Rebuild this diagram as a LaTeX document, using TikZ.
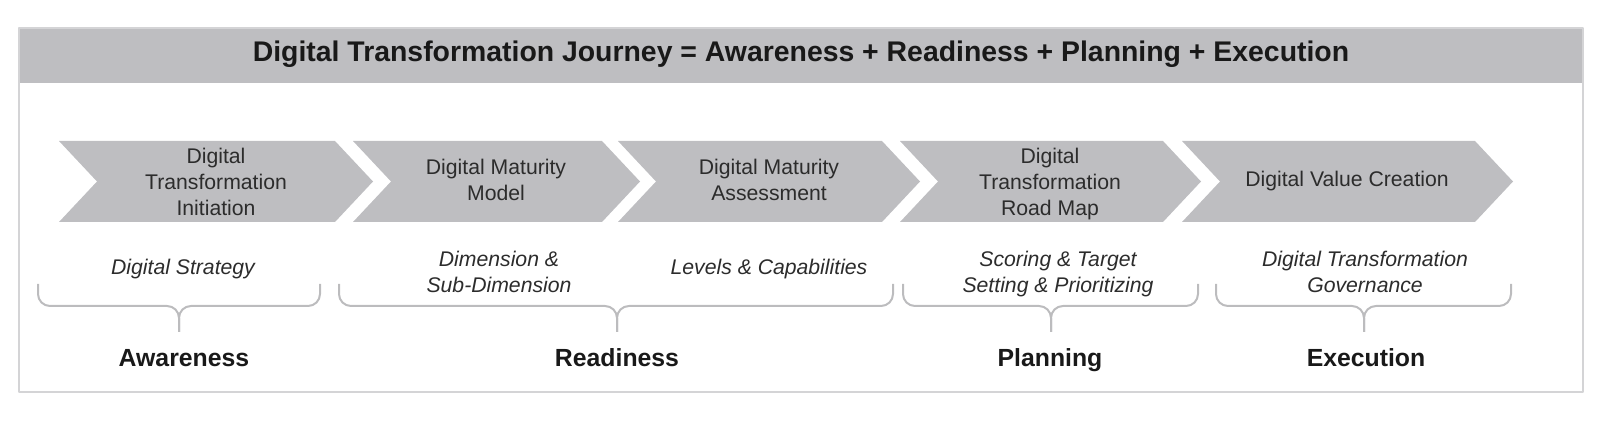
\documentclass[tikz,border=0pt]{standalone}
\usepackage{fontspec}
\setmainfont{Liberation Sans}
\definecolor{bandgray}{HTML}{BEBEC1}
\definecolor{framegray}{HTML}{D4D4D6}
\definecolor{bracegray}{HTML}{BCBCBE}
\definecolor{textgray}{HTML}{2C2C2C}
\tikzset{every scope/.style={line join=round},
  chev/.style={fill=bandgray},
  steptext/.style={align=center,text=textgray,font=\fontsize{10.6}{13}\selectfont},
  note/.style={align=center,text=textgray,font=\fontsize{10.6}{13}\selectfont\itshape},
  phase/.style={text=black!90,font=\fontsize{12.4}{15}\selectfont\bfseries},
  brace/.style={draw=bracegray,line width=1pt,rounded corners=6}}

\begin{document}
\begin{tikzpicture}[x=0.5pt,y=-0.5pt]
      \useasboundingbox (0,0) rectangle (1612,422);
      \fill[bandgray] (19,28) rectangle (1583,83);
      \draw[framegray,line width=1pt] (19,28) rectangle (1583,392);
      \node[text=black!90,font=\fontsize{14.2}{17}\selectfont\bfseries] (title) at (801,54) {Digital Transformation Journey = Awareness + Readiness + Planning + Execution};

      \fill[chev] (59,141) -- (335,141) -- (373,181.5) -- (335,222) -- (59,222) -- (97,181.5) -- cycle;
      \fill[chev] (353,141) -- (602,141) -- (640,181.5) -- (602,222) -- (353,222) -- (391,181.5) -- cycle;
      \fill[chev] (618,141) -- (882,141) -- (920,181.5) -- (882,222) -- (618,222) -- (656,181.5) -- cycle;
      \fill[chev] (900,141) -- (1163,141) -- (1201,181.5) -- (1163,222) -- (900,222) -- (938,181.5) -- cycle;
      \fill[chev] (1182,141) -- (1475,141) -- (1513,181.5) -- (1475,222) -- (1182,222) -- (1220,181.5) -- cycle;
      \node[steptext] (initiation) at (216,182) {Digital\\Transformation\\Initiation};
      \node[steptext] (model) at (496,180) {Digital Maturity\\Model};
      \node[steptext] (assess) at (769,180) {Digital Maturity\\Assessment};
      \node[steptext] (roadmap) at (1050,184.5) {Digital\\Transformation\\Road Map};
      \node[steptext] (value) at (1347,181) {Digital Value Creation};

      \node[note] (strategy) at (183,269) {Digital Strategy};
      \node[note] (dimension) at (499,272) {Dimension \&\\Sub-Dimension};
      \node[note] (levels) at (769,269) {Levels \& Capabilities};
      \node[note] (scoring) at (1058,274.5) {Scoring \& Target\\Setting \& Prioritizing};
      \node[note] (governance) at (1365,272) {Digital Transformation\\Governance};

      \draw[brace] (38,284) -- (38,306) -- (179,306) -- (179,332);
      \draw[brace] (320,284) -- (320,306) -- (179,306) -- (179,332);
      \draw[brace] (339,284) -- (339,306) -- (617,306) -- (617,332);
      \draw[brace] (893,284) -- (893,306) -- (617,306) -- (617,332);
      \draw[brace] (903,284) -- (903,306) -- (1051,306) -- (1051,332);
      \draw[brace] (1198,284) -- (1198,306) -- (1051,306) -- (1051,332);
      \draw[brace] (1216,284) -- (1216,306) -- (1364,306) -- (1364,332);
      \draw[brace] (1511,284) -- (1511,306) -- (1364,306) -- (1364,332);

      \node[phase] (aware) at (184,358) {Awareness};
      \node[phase] (ready) at (617,358) {Readiness};
      \node[phase] (plan) at (1050,360.5) {Planning};
      \node[phase] (exec) at (1366,358) {Execution};
    \end{tikzpicture}
\end{document}
